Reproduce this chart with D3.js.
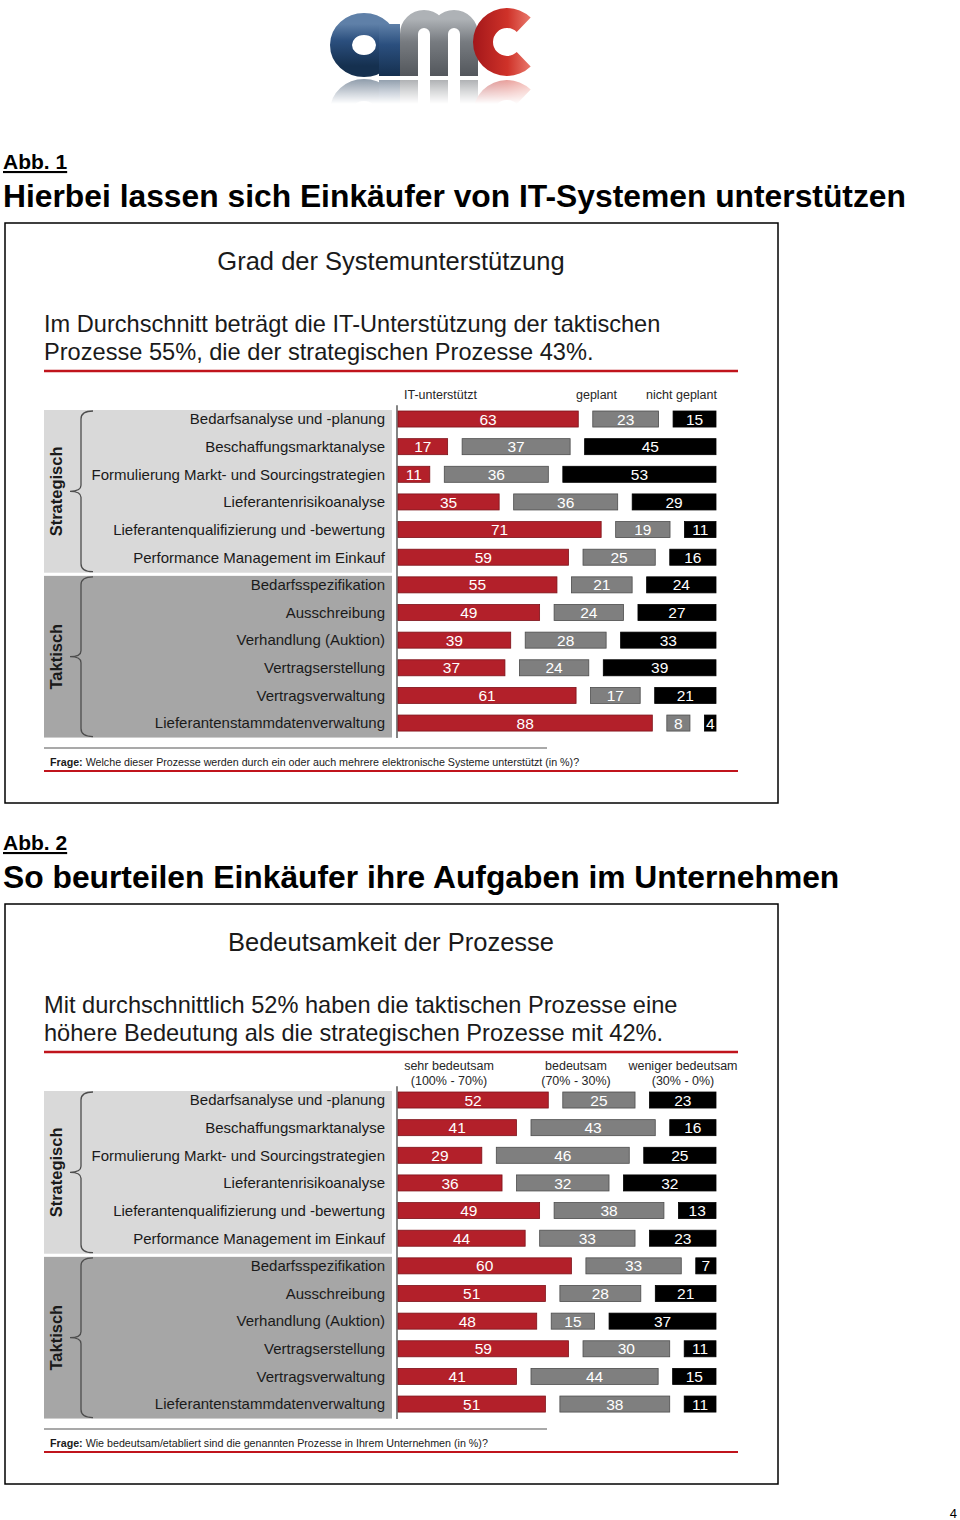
<!DOCTYPE html>
<html><head><meta charset="utf-8">
<script src="https://cdn.jsdelivr.net/npm/d3@7"></script>
<style>
html,body{margin:0;padding:0;background:#fff;}
svg{display:block;font-family:"Liberation Sans",Arial,sans-serif;}
</style></head>
<body>
<svg id="page" width="960" height="1520"></svg>
<script>
// ---------- DATA ----------
const categories = [
  "Bedarfsanalyse und -planung",
  "Beschaffungsmarktanalyse",
  "Formulierung Markt- und Sourcingstrategien",
  "Lieferantenrisikoanalyse",
  "Lieferantenqualifizierung und -bewertung",
  "Performance Management im Einkauf",
  "Bedarfsspezifikation",
  "Ausschreibung",
  "Verhandlung (Auktion)",
  "Vertragserstellung",
  "Vertragsverwaltung",
  "Lieferantenstammdatenverwaltung"
];
const groupNames = ["Strategisch", "Taktisch"];
const groupSize = [6, 6];

// Abb. 1
const itUnterstuetzt = [63, 17, 11, 35, 71, 59, 55, 49, 39, 37, 61, 88];
const geplant        = [23, 37, 36, 36, 19, 25, 21, 24, 28, 24, 17, 8];
const nichtGeplant   = [15, 45, 53, 29, 11, 16, 24, 27, 33, 39, 21, 4];
const series1Labels  = [["IT-unterstützt"], ["geplant"], ["nicht geplant"]];

// Abb. 2
const sehrBedeutsam    = [52, 41, 29, 36, 49, 44, 60, 51, 48, 59, 41, 51];
const bedeutsam        = [25, 43, 46, 32, 38, 33, 33, 28, 15, 30, 44, 38];
const wenigerBedeutsam = [23, 16, 25, 32, 13, 23, 7, 21, 37, 11, 15, 11];
const series2Labels    = [["sehr bedeutsam", "(100% - 70%)"], ["bedeutsam", "(70% - 30%)"], ["weniger bedeutsam", "(30% - 0%)"]];

// ---------- DRAW ----------
const svg = d3.select("#page");
const FONT = "Liberation Sans, Arial, sans-serif";
const RED = "#b3202a", GRAY = "#7f7f7f", BLACK = "#000";

// Logo
(function logo(){
  const defs = svg.append("defs");
  const mk = (id, c1, c2, c3) => {
    const g = defs.append("linearGradient").attr("id", id).attr("x1", 0).attr("y1", 0).attr("x2", 0).attr("y2", 1);
    g.append("stop").attr("offset", "0%").attr("stop-color", c1);
    g.append("stop").attr("offset", "40%").attr("stop-color", c2);
    g.append("stop").attr("offset", "100%").attr("stop-color", c3);
  };
  mk("gBlue", "#5f80a8", "#2b4f7e", "#15304f");
  mk("gGray", "#aeb2b6", "#777b80", "#53575c");
  mk("gRed", "#e9796c", "#cf3229", "#a3171a");
  const fade = defs.append("linearGradient").attr("id", "fadeG").attr("x1", 0).attr("y1", 0).attr("x2", 0).attr("y2", 1);
  fade.append("stop").attr("offset", "0%").attr("stop-color", "#fff").attr("stop-opacity", 0.5);
  fade.append("stop").attr("offset", "100%").attr("stop-color", "#fff").attr("stop-opacity", 0);
  const mask = defs.append("mask").attr("id", "reflMask");
  mask.append("rect").attr("x", 320).attr("y", 78).attr("width", 230).attr("height", 26).attr("fill", "url(#fadeG)");

  const L = svg.append("g").attr("class", "logo");
  const draw = (g) => {
    // m (behind)
    g.append("path").attr("d", "M409,76 V34 A15,15 0 0 1 439,34 V76 M439,34 A15,15 0 0 1 469,34 V76")
      .attr("fill", "none").attr("stroke", "url(#gGray)").attr("stroke-width", 18);
    // a
    g.append("ellipse").attr("cx", 364).attr("cy", 45).attr("rx", 23).attr("ry", 21)
      .attr("fill", "none").attr("stroke", "url(#gBlue)").attr("stroke-width", 22);
    g.append("rect").attr("x", 379).attr("y", 24).attr("width", 21).attr("height", 52).attr("fill", "url(#gBlue)");
    // c
    const arc = d3.arc().innerRadius(14).outerRadius(34).startAngle(0.8).endAngle(2 * Math.PI - 0.8);
    g.append("path").attr("transform", "translate(507,42) rotate(90)").attr("d", arc()).attr("fill", "url(#gRed)");
  };
  draw(L.append("g"));
  const refl = L.append("g").attr("mask", "url(#reflMask)")
    .append("g").attr("transform", "translate(0,156) scale(1,-1)");
  draw(refl);
})();

function drawFigure(cfg) {
  const g = svg.append("g");
  // Abb heading
  g.append("text").attr("x", 3).attr("y", cfg.abbY).attr("font-family", FONT).attr("font-weight", "bold")
    .attr("font-size", 21).attr("text-decoration", "underline").attr("fill", "#000").text(cfg.abb);
  g.append("text").attr("x", 3).attr("y", cfg.abbY + 38).attr("font-family", FONT).attr("font-weight", "bold")
    .attr("font-size", 31.8).attr("fill", "#000").text(cfg.heading);
  // frame
  g.append("rect").attr("x", 5).attr("y", cfg.frameY).attr("width", 773).attr("height", 580)
    .attr("fill", "none").attr("stroke", "#000").attr("stroke-width", 1.5);
  // title
  g.append("text").attr("x", 391).attr("y", cfg.frameY + 47).attr("text-anchor", "middle")
    .attr("font-family", FONT).attr("font-size", 25.5).attr("fill", "#1a1a1a").text(cfg.title);
  cfg.subtitle.forEach((s, i) => {
    g.append("text").attr("x", 44).attr("y", cfg.frameY + 109 + i * 28).attr("font-family", FONT)
      .attr("font-size", 23.6).attr("fill", "#1a1a1a").text(s);
  });
  // red separator
  g.append("line").attr("x1", 44).attr("x2", 738).attr("y1", cfg.frameY + 148).attr("y2", cfg.frameY + 148)
    .attr("stroke", "#c0141c").attr("stroke-width", 2.5);

  const step = 27.64;
  const y0 = cfg.rowTop;
  const y = d3.scaleBand().domain(categories).range([y0, y0 + step * categories.length])
    .paddingInner(0.42).paddingOuter(0.21);
  const cy = (c) => y(c) + y.bandwidth() / 2;

  // panels
  let start = 0;
  const panelFill = ["#d9d9d9", "#a6a6a6"];
  groupNames.forEach((gn, gi) => {
    const cats = categories.slice(start, start + groupSize[gi]);
    start += groupSize[gi];
    const top = cy(cats[0]) - 9;
    const bot = cy(cats[cats.length - 1]) + (gi === 0 ? 15.5 : 14.5);
    g.append("rect").attr("x", 44).attr("y", top).attr("width", 348).attr("height", bot - top).attr("fill", panelFill[gi]);
    // brace
    const bt = top + 1, bb = bot - 1, bm = (bt + bb) / 2, bx = 81;
    const p = d3.path();
    p.moveTo(bx + 12, bt);
    p.quadraticCurveTo(bx, bt, bx, bt + 8);
    p.lineTo(bx, bm - 6);
    p.quadraticCurveTo(bx, bm, bx - 11, bm);
    p.quadraticCurveTo(bx, bm, bx, bm + 6);
    p.lineTo(bx, bb - 8);
    p.quadraticCurveTo(bx, bb, bx + 12, bb);
    g.append("path").attr("d", p.toString()).attr("fill", "none").attr("stroke", "#4d4d4d").attr("stroke-width", 1.3);
    g.append("text").attr("transform", `translate(${62},${bm}) rotate(-90)`).attr("text-anchor", "middle")
      .attr("font-family", FONT).attr("font-weight", "bold").attr("font-size", 16.5).attr("fill", "#1a1a1a").text(gn);
  });

  // category labels
  g.selectAll("text.cat").data(categories).join("text").attr("class", "cat")
    .attr("x", 385).attr("y", d => cy(d) + 5.3).attr("text-anchor", "end")
    .attr("font-family", FONT).attr("font-size", 15).attr("fill", "#1a1a1a").text(d => d);

  // axis line
  g.append("line").attr("x1", 397).attr("x2", 397).attr("y1", y0).attr("y2", y0 + step * categories.length + 1)
    .attr("stroke", "#333").attr("stroke-width", 1.2);

  // bars
  const X0 = 398, W = 318, GAP = 14.5;
  const colors = [RED, GRAY, BLACK];
  const strokes = ["#7d1219", "#4d4d4d", "#000"];
  const rows = categories.map((c, i) => {
    const vals = cfg.series.map(s => s[i]);
    const sum = d3.sum(vals);
    const x = d3.scaleLinear().domain([0, sum]).range([0, W - 2 * GAP]);
    let acc = 0;
    return vals.map((v, k) => {
      const seg = { cat: c, v, k, x: X0 + x(acc) + k * GAP, w: x(v) };
      acc += v;
      return seg;
    });
  }).flat();
  g.selectAll("rect.bar").data(rows).join("rect").attr("class", "bar")
    .attr("x", d => d.x).attr("y", d => y(d.cat)).attr("width", d => d.w).attr("height", y.bandwidth())
    .attr("fill", d => colors[d.k]).attr("stroke", d => strokes[d.k]).attr("stroke-width", 0.8);
  g.selectAll("text.val").data(rows).join("text").attr("class", "val")
    .attr("x", d => d.x + d.w / 2).attr("y", d => cy(d.cat) + 5.6).attr("text-anchor", "middle")
    .attr("font-family", FONT).attr("font-size", 15.5).attr("fill", "#fff").text(d => d.v);

  // series headers
  cfg.headers.forEach((h) => {
    h.lines.forEach((ln, j) => {
      g.append("text").attr("x", h.x).attr("y", cfg.headerY + j * 15).attr("text-anchor", h.anchor)
        .attr("font-family", FONT).attr("font-size", 12.5).attr("fill", "#262626").text(ln);
    });
  });

  // footer
  const fy = y0 + step * categories.length;
  g.append("line").attr("x1", 44).attr("x2", 547).attr("y1", fy + 11).attr("y2", fy + 11)
    .attr("stroke", "#8c8c8c").attr("stroke-width", 1.5);
  const ft = g.append("text").attr("x", 50).attr("y", fy + 29).attr("font-family", FONT).attr("font-size", 10.7).attr("fill", "#1a1a1a");
  ft.append("tspan").attr("font-weight", "bold").text("Frage:");
  ft.append("tspan").text(" " + cfg.question);
  g.append("line").attr("x1", 44).attr("x2", 738).attr("y1", fy + 34).attr("y2", fy + 34)
    .attr("stroke", "#c0141c").attr("stroke-width", 2);
}

drawFigure({
  abb: "Abb. 1", abbY: 169,
  heading: "Hierbei lassen sich Einkäufer von IT-Systemen unterstützen",
  frameY: 223,
  title: "Grad der Systemunterstützung",
  subtitle: ["Im Durchschnitt beträgt die IT-Unterstützung der taktischen", "Prozesse 55%, die der strategischen Prozesse 43%."],
  rowTop: 405.2,
  series: [itUnterstuetzt, geplant, nichtGeplant],
  headers: [
    { lines: series1Labels[0], x: 404, anchor: "start" },
    { lines: series1Labels[1], x: 576, anchor: "start" },
    { lines: series1Labels[2], x: 717, anchor: "end" }
  ],
  headerY: 398.5,
  question: "Welche dieser Prozesse werden durch ein oder auch mehrere elektronische Systeme unterstützt (in %)?"
});

drawFigure({
  abb: "Abb. 2", abbY: 850,
  heading: "So beurteilen Einkäufer ihre Aufgaben im Unternehmen",
  frameY: 904,
  title: "Bedeutsamkeit der Prozesse",
  subtitle: ["Mit durchschnittlich 52% haben die taktischen Prozesse eine", "höhere Bedeutung als die strategischen Prozesse mit 42%."],
  rowTop: 1086.2,
  series: [sehrBedeutsam, bedeutsam, wenigerBedeutsam],
  headers: [
    { lines: series2Labels[0], x: 449, anchor: "middle" },
    { lines: series2Labels[1], x: 576, anchor: "middle" },
    { lines: series2Labels[2], x: 683, anchor: "middle" }
  ],
  headerY: 1070,
  question: "Wie bedeutsam/etabliert sind die genannten Prozesse in Ihrem Unternehmen (in %)?"
});

svg.append("text").attr("x", 957).attr("y", 1518).attr("text-anchor", "end")
  .attr("font-family", FONT).attr("font-size", 13).attr("fill", "#000").text("4");
</script>
</body></html>
